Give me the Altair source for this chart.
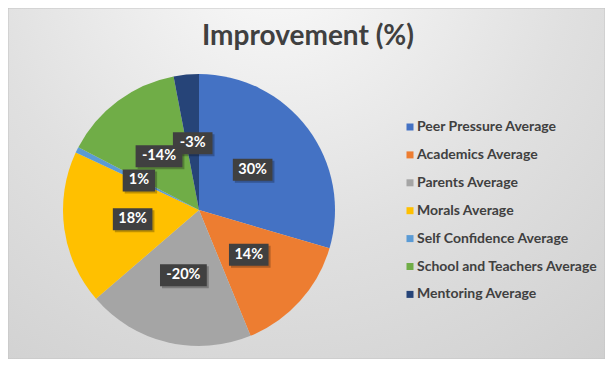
import altair as alt
import pandas as pd

# ---- data ----
categories = [
    "Peer Pressure Average",
    "Academics Average",
    "Parents Average",
    "Morals Average",
    "Self Confidence Average",
    "School and Teachers Average",
    "Mentoring Average",
]
improvement = [0.296, 0.143, -0.199, 0.183, 0.007, -0.144, -0.030]
colors = ["#4472C4", "#ED7D31", "#A5A5A5", "#FFC000", "#5B9BD5", "#70AD47", "#264478"]
title_text = ["Improvement (%)"]

# ---- layout ----
W, H = 597, 351
CX, CY = 191, 202
R = 136
R_LABEL = 67
FONT = "Lato"

df = pd.DataFrame({"category": categories, "improvement": improvement,
                   "idx": list(range(len(categories)))})

base = alt.Chart(df).transform_calculate(size_abs="abs(datum.improvement)")

bg = alt.Chart(pd.DataFrame({"k": [0]})).mark_rect(
    color=alt.Gradient(
        gradient="radial",
        stops=[alt.GradientStop(color="#fbfbfb", offset=0),
               alt.GradientStop(color="#e0e0e0", offset=0.5),
               alt.GradientStop(color="#cbcbcb", offset=1)],
        x1=0.45, y1=0.1, x2=0.45, y2=0.1, r1=0, r2=1.0),
    stroke="#c4c4c4", strokeWidth=1,
).encode(x=alt.value(0), x2=alt.value(W), y=alt.value(0), y2=alt.value(H))

title = alt.Chart(pd.DataFrame({"t": title_text})).mark_text(
    font=FONT, fontSize=28, fontWeight="bold", color="#404040",
    align="center", baseline="alphabetic",
).encode(text="t:N", x=alt.value(300), y=alt.value(37))

pie = base.mark_arc(outerRadius=R).encode(
    theta=alt.Theta("size_abs:Q", stack=True),
    color=alt.Color(
        "category:N",
        sort=categories,
        scale=alt.Scale(domain=categories, range=colors),
        legend=alt.Legend(
            title=None, orient="none", legendX=395, legendY=112,
            symbolType="square", symbolSize=49, symbolStrokeWidth=0,
            labelFont=FONT, labelFontSize=14, labelFontWeight="bold",
            labelColor="#404040", rowPadding=13.9, labelLimit=400, labelOffset=0,
        ),
    ),
    order=alt.Order("idx:Q"),
    x=alt.value(CX), y=alt.value(CY),
)

lab = base.transform_window(
    cum="sum(size_abs)", sort=[alt.SortField("idx")], frame=[None, 0]
).transform_joinaggregate(total="sum(size_abs)").transform_calculate(
    ang="2*PI*(datum.cum - datum.size_abs/2)/datum.total",
    lx=f"{CX} + {R_LABEL}*sin(datum.ang)",
    ly=f"{CY} - {R_LABEL}*cos(datum.ang)",
    label="(datum.improvement < 0 ? '-' : '') + format(abs(datum.improvement), '.0%')",
    hw="3.6*length(datum.label) + 9",
    box="'M' + (-datum.hw) + ',-11H' + datum.hw + 'V11H' + (-datum.hw) + 'Z'",
    shadow="'M' + (2-datum.hw) + ',-9H' + (datum.hw+2) + 'V13H' + (2-datum.hw) + 'Z'",
)

shadow = lab.mark_point(filled=True, size=4, color="#000000", opacity=0.25).encode(
    x=alt.X("lx:Q", scale=None), y=alt.Y("ly:Q", scale=None),
    shape=alt.Shape("shadow:N", scale=None),
)
boxes = lab.mark_point(filled=True, size=4, color="#404040", opacity=1).encode(
    x=alt.X("lx:Q", scale=None), y=alt.Y("ly:Q", scale=None),
    shape=alt.Shape("box:N", scale=None),
)
texts = lab.mark_text(font=FONT, fontSize=14.5, fontWeight="bold", color="white",
                      align="center", baseline="middle").encode(
    x=alt.X("lx:Q", scale=None), y=alt.Y("ly:Q", scale=None), text="label:N",
)

chart = alt.layer(bg, title, pie, shadow, boxes, texts).properties(
    width=W, height=H, autosize=alt.AutoSizeParams(type="none"), padding=0,
).configure_view(stroke=None)

chart.save("out.html", embed_options={"renderer": "svg", "actions": False})
